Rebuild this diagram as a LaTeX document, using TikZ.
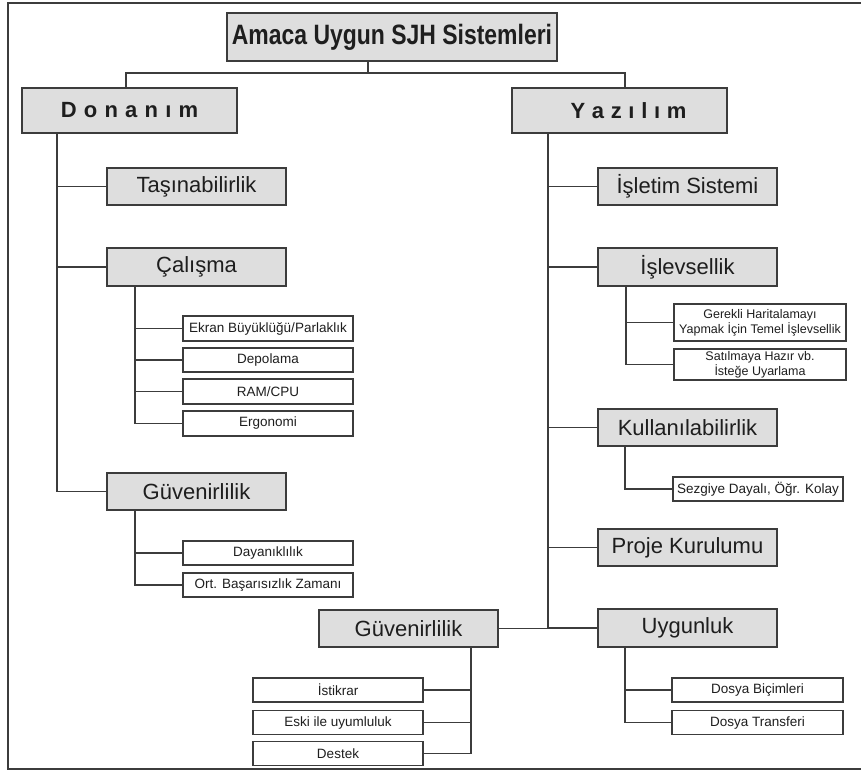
\documentclass[tikz,border=0pt]{standalone}
\usepackage{fontspec}
\setmainfont{Liberation Sans}
\newfontfamily\titlefont[FakeStretch=0.82]{Liberation Sans}
\definecolor{linegray}{HTML}{3C3C3C}
\definecolor{boxfill}{HTML}{DEDEDE}
\definecolor{inkgray}{HTML}{1E1E1E}
\newcommand\gapD{\hspace{7.2pt}}
\newcommand\gapY{\hspace{6.7pt}}
\begin{document}
\begin{tikzpicture}[x=1pt,y=-1pt,
  every node/.style={inner sep=0pt, outer sep=0pt, text=inkgray},
  headbox/.style={draw=linegray, line width=1.8pt, fill=boxfill},
  topbox/.style={headbox, font=\titlefont\bfseries\fontsize{28}{32}\selectfont},
  sidebox/.style={headbox, font=\bfseries\fontsize{22}{26}\selectfont},
  midbox/.style={headbox, font=\fontsize{22}{26}\selectfont},
  leafbox/.style={draw=linegray, line width=1.5pt, fill=white, font=\fontsize{13.5}{15}\selectfont},
  twolinebox/.style={leafbox, align=center, font=\fontsize{12.5}{15}\selectfont},
  link/.style={draw=linegray, line width=1.9pt},
  frame/.style={draw=linegray, line width=1.6pt}
]
\useasboundingbox (0,0) rectangle (861,771);
\draw[frame] (861,3) -- (8,3) -- (8,769) -- (861,769);

% root and the two main branches
\node[topbox, minimum width=330pt, minimum height=48pt] (root) at (392,37) {Amaca Uygun SJH Sistemleri};
\node[sidebox, minimum width=215pt, minimum height=45pt] (don) at (129.5,110.5) {D\gapD o\gapD n\gapD a\gapD n\gapD ı\gapD m};
\node[sidebox, minimum width=215pt, minimum height=45pt] (yaz) at (619.5,110.5) {\hspace{18pt}Y\gapY a\gapY z\gapY ı\gapY l\gapY ı\gapY m};

% hardware side
\node[midbox, minimum width=179pt, minimum height=37pt] (tas) at (196.5,186.5) {Taşınabilirlik};
\node[midbox, minimum width=179pt, minimum height=38pt] (cal) at (196.5,267) {Çalışma};
\node[leafbox, minimum width=170pt, minimum height=25pt] (ekran) at (268,328.5) {Ekran Büyüklüğü/Parlaklık};
\node[leafbox, minimum width=170pt, minimum height=24pt] (depo) at (268,360) {Depolama};
\node[leafbox, minimum width=170pt, minimum height=25pt] (ram) at (268,391.5) {RAM/CPU};
\node[leafbox, minimum width=170pt, minimum height=25pt] (ergo) at (268,423.5) {Ergonomi};
\node[midbox, minimum width=179pt, minimum height=37pt] (guvA) at (196.5,491.5) {Güvenirlilik};
\node[leafbox, minimum width=170pt, minimum height=24pt] (day) at (268,553) {Dayanıklılık};
\node[leafbox, minimum width=170pt, minimum height=24pt] (ort) at (268,585) {Ort. Başarısızlık Zamanı};

% software side
\node[midbox, minimum width=179pt, minimum height=37pt] (islt) at (687.5,186.5) {İşletim Sistemi};
\node[midbox, minimum width=179pt, minimum height=38pt] (islv) at (687.5,267) {İşlevsellik};
\node[twolinebox, minimum width=172pt, minimum height=37pt] (ger) at (760,322.5) {Gerekli Haritalamayı\\Yapmak İçin Temel İşlevsellik};
\node[twolinebox, minimum width=172pt, minimum height=31pt] (sat) at (760,364.5) {Satılmaya Hazır vb.\\İsteğe Uyarlama};
\node[midbox, minimum width=179pt, minimum height=37pt] (kul) at (687.5,427.5) {Kullanılabilirlik};
\node[leafbox, minimum width=170pt, minimum height=24pt] (sez) at (758,489) {Sezgiye Dayalı, Öğr. Kolay};
\node[midbox, minimum width=179pt, minimum height=37pt] (proj) at (687.5,547.5) {Proje Kurulumu};
\node[midbox, minimum width=179pt, minimum height=38pt] (uyg) at (687.5,628) {Uygunluk};
\node[leafbox, minimum width=171pt, minimum height=24pt] (dbic) at (757.5,690) {Dosya Biçimleri};
\node[leafbox, minimum width=171pt, minimum height=24pt] (dtr) at (757.5,722.5) {Dosya Transferi};
\node[midbox, minimum width=179pt, minimum height=37pt] (guvB) at (408.5,628.5) {Güvenirlilik};
\node[leafbox, minimum width=170pt, minimum height=24pt] (ist) at (338,690) {İstikrar};
\node[leafbox, minimum width=170pt, minimum height=24pt] (eski) at (338,722.5) {Eski ile uyumluluk};
\node[leafbox, minimum width=170pt, minimum height=24pt] (destek) at (338,753.5) {Destek};

% bus under the root
\coordinate (stem) at (368,73);
\coordinate (busL) at (126,73);
\coordinate (busR) at (625,73);
\draw[link] (root.south -| stem) -- (stem);
\draw[link] (don.north -| busL) -- (busL) -- (busR) -- (yaz.north -| busR);

% hardware trunk
\coordinate (lt) at (57,133);
\draw[link] (don.south -| lt) |- (guvA.west);
\draw[link] (lt |- tas.west) -- (tas.west);
\draw[link] (lt |- cal.west) -- (cal.west);
\coordinate (calt) at (135,286);
\draw[link] (cal.south -| calt) |- (ergo.west);
\draw[link] (calt |- ekran.west) -- (ekran.west);
\draw[link] (calt |- depo.west) -- (depo.west);
\draw[link] (calt |- ram.west) -- (ram.west);
\coordinate (guvAt) at (135,510);
\draw[link] (guvA.south -| guvAt) |- (ort.west);
\draw[link] (guvAt |- day.west) -- (day.west);

% software trunk
\coordinate (rt) at (548,133);
\draw[link] (yaz.south -| rt) |- (uyg.west);
\draw[link] (rt |- islt.west) -- (islt.west);
\draw[link] (rt |- islv.west) -- (islv.west);
\draw[link] (rt |- kul.west) -- (kul.west);
\draw[link] (rt |- proj.west) -- (proj.west);
\draw[link] (guvB.east) -- (guvB.east -| rt);
\coordinate (islvt) at (626,286);
\draw[link] (islv.south -| islvt) |- (sat.west);
\draw[link] (islvt |- ger.west) -- (ger.west);
\coordinate (kult) at (625,446);
\draw[link] (kul.south -| kult) |- (sez.west);
\coordinate (uygt) at (625,647);
\draw[link] (uyg.south -| uygt) |- (dtr.west);
\draw[link] (uygt |- dbic.west) -- (dbic.west);
\coordinate (guvBt) at (471,647);
\draw[link] (guvB.south -| guvBt) |- (destek.east);
\draw[link] (guvBt |- ist.east) -- (ist.east);
\draw[link] (guvBt |- eski.east) -- (eski.east);
\end{tikzpicture}
\end{document}
